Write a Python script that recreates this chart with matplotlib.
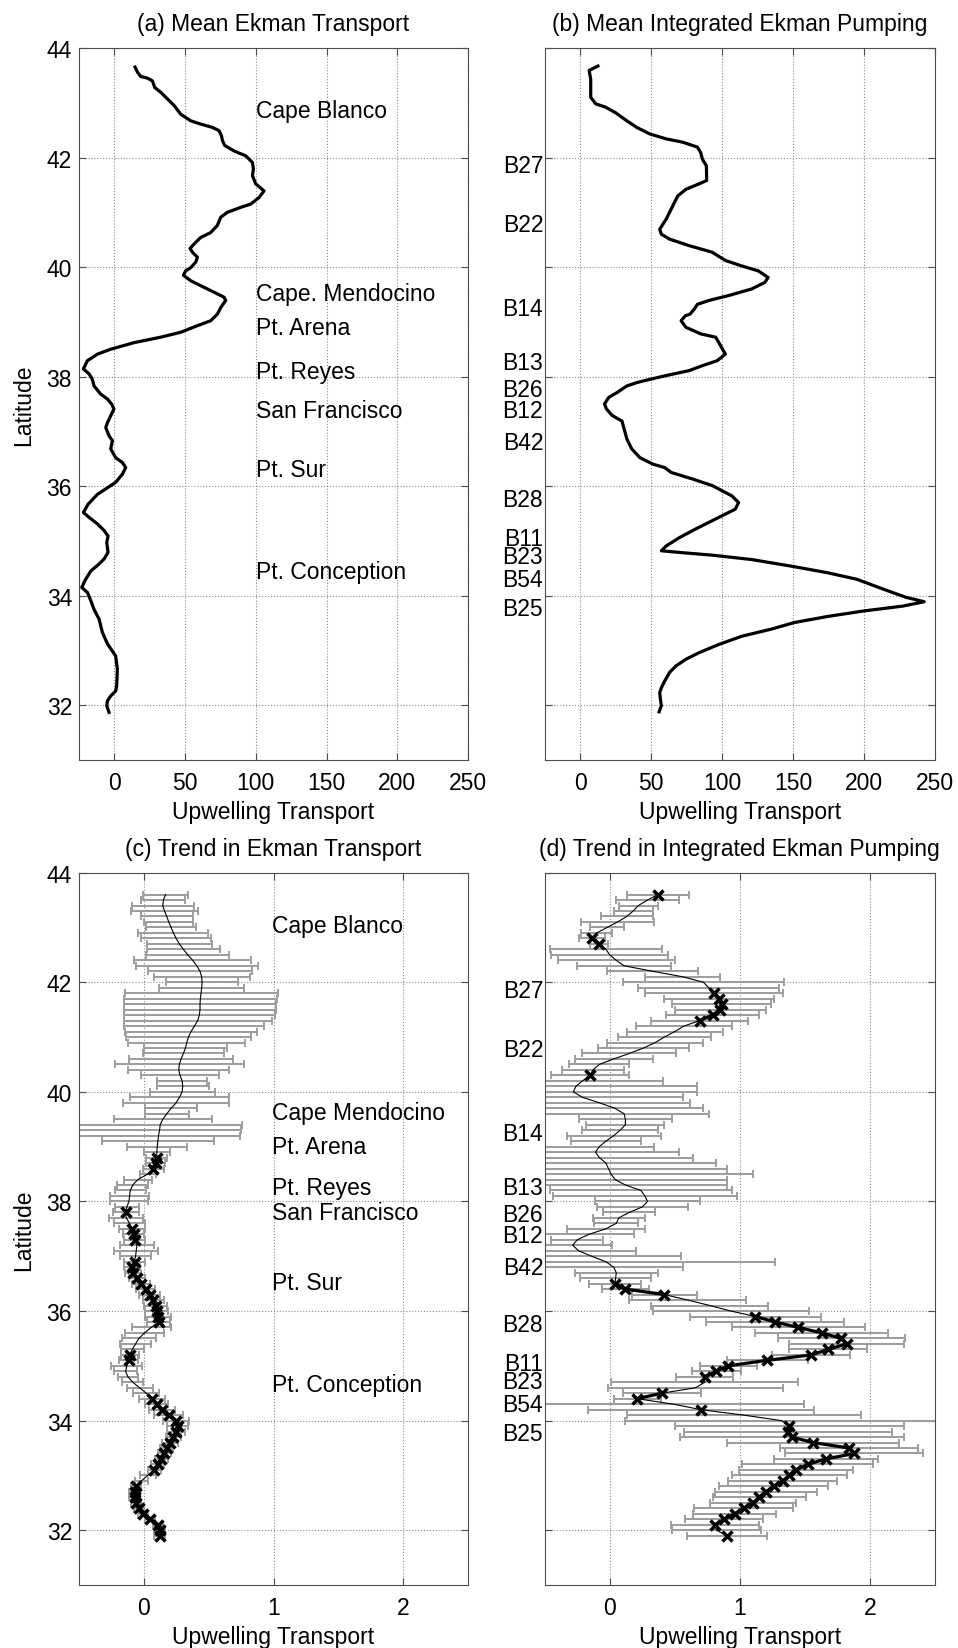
#!/usr/bin/env python3
# -*- coding: utf-8 -*-

import numpy as np
import matplotlib
matplotlib.use('Agg')
import matplotlib.pyplot as plt

plt.rcParams['font.family'] = ['Liberation Sans', 'DejaVu Sans']
plt.rcParams['font.size'] = 16.5

# (a) mean Ekman transport
a_lat = [43.65, 43.56, 43.48, 43.45, 43.40, 43.28, 43.19, 43.07, 42.95, 42.79,
         42.67, 42.61, 42.55, 42.49, 42.40, 42.31, 42.22, 42.12, 42.03, 41.91,
         41.79, 41.67, 41.52, 41.39, 41.27, 41.15, 41.09, 41.00, 40.91, 40.76,
         40.63, 40.54, 40.42, 40.34, 40.27, 40.18, 40.09, 39.99, 39.93, 39.85,
         39.75, 39.66, 39.54, 39.45, 39.39, 39.26, 39.14, 39.02, 38.93, 38.81,
         38.72, 38.62, 38.50, 38.41, 38.29, 38.14, 38.05, 37.95, 37.83, 37.68,
         37.59, 37.50, 37.41, 37.16, 37.07, 36.92, 36.83, 36.68, 36.52, 36.43,
         36.34, 36.22, 36.07, 35.97, 35.85, 35.67, 35.52, 35.43, 35.31, 35.19,
         35.09, 34.97, 34.79, 34.67, 34.58, 34.45, 34.30, 34.15, 34.06, 33.91,
         33.75, 33.57, 33.33, 33.12, 32.90, 32.66, 32.35, 32.26, 32.17, 32.08,
         31.99, 31.87]
a_val = [14.6, 16.3, 18.6, 23.3, 26.9, 28.5, 32.8, 37.5, 42.2, 46.9,
         54.0, 61.0, 69.3, 74.0, 75.7, 76.4, 78.0, 84.6, 92.9, 97.6,
         98.3, 97.6, 99.9, 105.8, 102.3, 96.4, 89.3, 79.9, 75.2, 72.8,
         68.1, 61.0, 56.3, 53.5, 55.2, 58.7, 57.5, 54.0, 50.4, 48.8,
         54.0, 61.0, 70.5, 77.5, 78.7, 75.2, 72.8, 68.1, 58.7, 46.9,
         32.8, 13.9, -2.6, -12.0, -19.1, -21.9, -17.9, -15.6, -14.4, -9.7,
         -4.9, -2.0, -0.3, -4.9, -6.1, -3.8, -1.4, -2.6, 0.9, 5.7,
         8.0, 5.7, 0.9, -4.9, -12.0, -18.6, -21.9, -17.9, -12.0, -7.3,
         -4.5, -5.4, -4.5, -7.3, -10.8, -16.7, -20.3, -23.1, -19.1, -16.7,
         -14.4, -10.8, -8.5, -4.9, 0.9, 2.1, 1.6, 0.9, -2.6, -4.9,
         -5.4, -3.8]

# (b) mean integrated Ekman pumping
b_lat = [43.67, 43.59, 43.43, 43.25, 43.10, 42.98, 42.92, 42.82, 42.67, 42.55,
         42.43, 42.34, 42.28, 42.19, 42.09, 41.97, 41.85, 41.58, 41.52, 41.42,
         41.30, 41.18, 40.88, 40.69, 40.60, 40.51, 40.39, 40.27, 40.12, 40.02,
         39.93, 39.81, 39.72, 39.60, 39.48, 39.39, 39.32, 39.23, 39.14, 39.11,
         39.02, 38.90, 38.78, 38.72, 38.62, 38.41, 38.29, 38.20, 38.11, 38.02,
         37.95, 37.89, 37.83, 37.71, 37.62, 37.50, 37.41, 37.29, 37.19, 37.04,
         36.86, 36.68, 36.52, 36.40, 36.34, 36.25, 36.13, 36.01, 35.82, 35.70,
         35.58, 35.49, 35.43, 35.22, 35.06, 34.91, 34.82, 34.79, 34.74, 34.66,
         34.54, 34.42, 34.30, 34.12, 33.97, 33.89, 33.81, 33.72, 33.62, 33.51,
         33.39, 33.26, 33.11, 32.96, 32.84, 32.72, 32.60, 32.44, 32.32, 32.23,
         32.11, 31.99, 31.88]
b_val = [12.5, 6.3, 7.4, 7.4, 7.4, 10.9, 17.8, 24.8, 32.9, 39.8,
         49.1, 60.7, 72.2, 82.6, 84.9, 86.1, 88.9, 89.1, 83.8, 74.5,
         68.8, 66.4, 60.7, 56.0, 57.2, 63.0, 76.9, 93.1, 102.3, 113.9,
         125.5, 132.4, 130.1, 120.8, 104.6, 90.7, 82.6, 80.3, 77.3, 74.0,
         71.1, 74.5, 84.9, 95.4, 97.7, 102.3, 96.5, 86.1, 76.9, 60.7,
         49.1, 39.8, 32.9, 26.0, 20.1, 17.1, 18.5, 22.5, 29.4, 31.0,
         32.9, 36.3, 42.1, 51.4, 59.5, 64.1, 79.2, 93.1, 107.0, 111.6,
         109.3, 102.3, 97.7, 81.5, 69.9, 60.7, 57.2, 69.9, 93.1, 120.8,
         148.6, 174.1, 194.9, 213.5, 229.6, 242.4, 227.3, 199.5, 174.1, 150.9,
         134.7, 113.9, 97.7, 83.8, 74.5, 67.6, 63.0, 59.5, 57.2, 56.0,
         56.5, 57.2, 55.6]

# (c)/(d) trends on a 0.1 degree latitude grid, 43.6N .. 31.9N
trend_lat = np.round(np.arange(43.6, 31.85, -0.1), 2)

c_trend = [0.167, 0.151, 0.146, 0.159, 0.177, 0.192, 0.210, 0.228, 0.249, 0.274,
           0.305, 0.338, 0.377, 0.408, 0.433, 0.446, 0.449, 0.446, 0.441, 0.436,
           0.433, 0.433, 0.428, 0.415, 0.390, 0.364, 0.344, 0.331, 0.321, 0.305,
           0.287, 0.274, 0.269, 0.279, 0.295, 0.300, 0.295, 0.274, 0.249, 0.210,
           0.177, 0.146, 0.126, 0.121, 0.113, 0.108, 0.103, 0.100, 0.100, 0.090,
           0.074, 0.031, -0.046, -0.085, -0.105, -0.110, -0.115, -0.131, -0.141, -0.136,
           -0.110, -0.092, -0.079, -0.072, -0.054, -0.059, -0.064, -0.072, -0.090, -0.085,
           -0.054, -0.021, 0.013, 0.044, 0.074, 0.090, 0.100, 0.108, 0.115, 0.056,
           0.005, -0.038, -0.064, -0.090, -0.110, -0.118, -0.131, -0.141, -0.123, -0.085,
           -0.033, 0.018, 0.064, 0.100, 0.141, 0.192, 0.249, 0.262, 0.249, 0.228,
           0.203, 0.177, 0.159, 0.133, 0.108, 0.082, 0.031, -0.021, -0.059, -0.072,
           -0.072, -0.059, -0.038, -0.008, 0.049, 0.108, 0.121, 0.121]
c_err = [0.17, 0.17, 0.24, 0.26, 0.20, 0.19, 0.19, 0.27, 0.27, 0.25,
         0.28, 0.32, 0.45, 0.47, 0.40, 0.37, 0.28, 0.33, 0.59, 0.59,
         0.59, 0.59, 0.58, 0.57, 0.54, 0.51, 0.48, 0.45, 0.32, 0.31,
         0.40, 0.50, 0.39, 0.30, 0.19, 0.20, 0.25, 0.38, 0.41, 0.20,
         0.17, 0.38, 0.63, 0.63, 0.63, 0.43, 0.23, 0.10, 0.08, 0.07,
         0.08, 0.06, 0.11, 0.12, 0.12, 0.15, 0.15, 0.09, 0.10, 0.13,
         0.12, 0.10, 0.08, 0.08, 0.13, 0.17, 0.12, 0.08, 0.06, 0.06,
         0.06, 0.07, 0.07, 0.08, 0.08, 0.09, 0.09, 0.10, 0.09, 0.15,
         0.15, 0.13, 0.12, 0.09, 0.07, 0.07, 0.12, 0.09, 0.08, 0.08,
         0.10, 0.10, 0.10, 0.09, 0.10, 0.11, 0.10, 0.08, 0.07, 0.06,
         0.06, 0.05, 0.05, 0.05, 0.05, 0.05, 0.06, 0.05, 0.04, 0.04,
         0.04, 0.04, 0.04, 0.04, 0.04, 0.04, 0.04, 0.04]
c_sig = [0, 0, 0, 0, 0, 0, 0, 0, 0, 0,
         0, 0, 0, 0, 0, 0, 0, 0, 0, 0,
         0, 0, 0, 0, 0, 0, 0, 0, 0, 0,
         0, 0, 0, 0, 0, 0, 0, 0, 0, 0,
         0, 0, 0, 0, 0, 0, 0, 0, 1, 1,
         1, 0, 0, 0, 0, 0, 0, 0, 1, 0,
         0, 1, 1, 1, 0, 0, 0, 1, 1, 1,
         1, 1, 1, 1, 1, 1, 1, 1, 1, 0,
         0, 0, 0, 0, 1, 1, 0, 0, 0, 0,
         0, 0, 1, 1, 1, 1, 1, 1, 1, 1,
         1, 1, 1, 1, 1, 1, 0, 0, 1, 1,
         1, 1, 1, 1, 1, 1, 1, 1]

d_trend = [0.37, 0.29, 0.22, 0.18, 0.13, 0.06, -0.02, -0.10, -0.14, -0.08,
           -0.03, 0.00, 0.05, 0.11, 0.33, 0.56, 0.72, 0.76, 0.80, 0.84,
           0.86, 0.85, 0.79, 0.69, 0.57, 0.50, 0.42, 0.35, 0.26, 0.15,
           0.03, -0.08, -0.13, -0.15, -0.21, -0.26, -0.28, -0.21, -0.08, 0.04,
           0.11, 0.12, 0.12, 0.08, 0.03, -0.03, -0.08, -0.11, -0.08, -0.03,
           -0.01, 0.01, 0.04, 0.12, 0.24, 0.27, 0.29, 0.25, 0.15, 0.07,
           0.05, -0.03, -0.16, -0.25, -0.285, -0.24, -0.14, -0.03, 0.03, 0.05,
           0.045, 0.04, 0.12, 0.42, 0.60, 0.77, 0.93, 1.12, 1.27, 1.45,
           1.63, 1.78, 1.82, 1.68, 1.55, 1.21, 0.91, 0.82, 0.73, 0.73,
           0.66, 0.40, 0.21, 0.49, 0.70, 1.03, 1.32, 1.38, 1.37, 1.40,
           1.56, 1.84, 1.88, 1.66, 1.52, 1.43, 1.38, 1.33, 1.26, 1.20,
           1.15, 1.10, 1.03, 0.96, 0.88, 0.81, 0.82, 0.90]
d_err = [0.24, 0.24, 0.15, 0.15, 0.20, 0.28, 0.13, 0.12, 0.10, 0.07,
         0.43, 0.45, 0.45, 0.36, 0.35, 0.29, 0.62, 0.54, 0.53, 0.42,
         0.38, 0.35, 0.36, 0.37, 0.37, 0.37, 0.36, 0.37, 0.35, 0.36,
         0.30, 0.23, 0.24, 0.30, 0.62, 0.93, 0.95, 0.77, 0.70, 0.68,
         0.65, 0.36, 0.30, 0.29, 0.36, 0.27, 0.42, 0.64, 0.72, 0.85,
         0.91, 1.09, 0.86, 0.78, 0.70, 0.71, 0.40, 0.35, 0.20, 0.20,
         0.17, 0.30, 0.35, 0.20, 0.30, 0.44, 0.69, 1.30, 0.53, 0.32,
         0.27, 0.20, 0.18, 0.25, 0.45, 0.45, 0.60, 0.50, 0.53, 0.51,
         0.51, 0.49, 0.44, 0.30, 0.30, 0.31, 0.22, 0.19, 0.22, 0.72,
         0.67, 0.30, 0.18, 1.00, 0.87, 0.90, 1.20, 0.88, 0.80, 0.86,
         0.66, 0.53, 0.53, 0.40, 0.50, 0.44, 0.44, 0.42, 0.42, 0.39,
         0.36, 0.33, 0.38, 0.32, 0.30, 0.34, 0.34, 0.31]
d_sig = [1, 0, 0, 0, 0, 0, 0, 0, 1, 1,
         0, 0, 0, 0, 0, 0, 0, 0, 1, 1,
         1, 1, 1, 1, 0, 0, 0, 0, 0, 0,
         0, 0, 0, 1, 0, 0, 0, 0, 0, 0,
         0, 0, 0, 0, 0, 0, 0, 0, 0, 0,
         0, 0, 0, 0, 0, 0, 0, 0, 0, 0,
         0, 0, 0, 0, 0, 0, 0, 0, 0, 0,
         0, 1, 1, 1, 0, 0, 0, 1, 1, 1,
         1, 1, 1, 1, 1, 1, 1, 1, 1, 0,
         0, 1, 1, 0, 1, 0, 0, 1, 1, 1,
         1, 1, 1, 1, 1, 1, 1, 1, 1, 1,
         1, 1, 1, 1, 1, 1, 0, 1]

# place names (left panels) and buoy names (right panels)
capes_a = ['Cape Blanco', 'Cape. Mendocino', 'Pt. Arena', 'Pt. Reyes',
           'San Francisco', 'Pt. Sur', 'Pt. Conception']
capes_a_lat = [42.85, 39.51, 38.90, 38.09, 37.39, 36.31, 34.45]
capes_c = ['Cape Blanco', 'Cape Mendocino', 'Pt. Arena', 'Pt. Reyes',
           'San Francisco', 'Pt. Sur', 'Pt. Conception']
capes_c_lat = [43.03, 39.62, 39.01, 38.25, 37.80, 36.52, 34.66]
buoys = ['B27', 'B22', 'B14', 'B13', 'B26', 'B12', 'B42', 'B28',
         'B11', 'B23', 'B54', 'B25']
buoy_lat = [41.85, 40.78, 39.24, 38.26, 37.77, 37.38, 36.80, 35.76,
            35.04, 34.72, 34.29, 33.77]

mean_ticks = [0, 50, 100, 150, 200, 250]
trend_ticks = [0, 1, 2]
lat_ticks = [32, 34, 36, 38, 40, 42, 44]


def style_axes(ax, xlim, xticks, title):
    ax.set_xlim(xlim)
    ax.set_ylim(31, 44)
    ax.set_xticks(xticks)
    ax.set_yticks(lat_ticks)
    ax.grid(True, linestyle=':', color='0.55', linewidth=0.8)
    ax.set_axisbelow(True)
    ax.tick_params(direction='in', length=5, top=True, right=True,
                   color='0.3', width=0.8)
    ax.tick_params(axis='x', pad=8)
    ax.tick_params(axis='y', pad=5)
    for s in ax.spines.values():
        s.set_color('0.3')
        s.set_linewidth(0.8)
    ax.set_xlabel('Upwelling Transport', labelpad=4)
    ax.set_title(title, pad=13, fontsize=16.5)


def station_labels(ax):
    ax.set_yticklabels([])
    for name, lat in zip(buoys, buoy_lat):
        ax.text(-0.004, lat, name, transform=ax.get_yaxis_transform(),
                ha='right', va='center')


def trend_panel(ax, trend, err, sig):
    trend = np.array(trend)
    sig_line = np.where(np.array(sig) > 0, trend, np.nan)
    ax.errorbar(trend, trend_lat, xerr=err, fmt='none', ecolor='0.62',
                elinewidth=1.45, capsize=3, capthick=1.4, zorder=2)
    ax.plot(trend, trend_lat, '-', color='black', linewidth=0.8, zorder=3)
    ax.plot(sig_line, trend_lat, '-x', color='black', linewidth=2.3,
            markersize=7.5, markeredgewidth=2.5, zorder=4)


fig = plt.figure(figsize=(9.58, 16.49), dpi=100)
ax_a = fig.add_axes([0.0825, 0.5385, 0.406, 0.4318])
ax_b = fig.add_axes([0.5686, 0.5385, 0.4074, 0.4318])
ax_c = fig.add_axes([0.0825, 0.0382, 0.406, 0.432])
ax_d = fig.add_axes([0.5686, 0.0382, 0.4074, 0.432])

# (a)
ax_a.plot(a_val, a_lat, '-', color='black', linewidth=2.3)
style_axes(ax_a, (-25, 250), mean_ticks, '(a) Mean Ekman Transport')
ax_a.set_ylabel('Latitude', labelpad=8)
for name, lat in zip(capes_a, capes_a_lat):
    ax_a.text(100, lat, name, ha='left', va='center')

# (b)
ax_b.plot(b_val, b_lat, '-', color='black', linewidth=2.3)
style_axes(ax_b, (-25, 250), mean_ticks, '(b) Mean Integrated Ekman Pumping')
station_labels(ax_b)

# (c)
trend_panel(ax_c, c_trend, c_err, c_sig)
style_axes(ax_c, (-0.5, 2.5), trend_ticks, '(c) Trend in Ekman Transport')
ax_c.set_ylabel('Latitude', labelpad=8)
for name, lat in zip(capes_c, capes_c_lat):
    ax_c.text(0.99, lat, name, ha='left', va='center')

# (d)
trend_panel(ax_d, d_trend, d_err, d_sig)
style_axes(ax_d, (-0.5, 2.5), trend_ticks, '(d) Trend in Integrated Ekman Pumping')
station_labels(ax_d)

fig.savefig('out.png', dpi=100, facecolor='white')
plt.close('all')
